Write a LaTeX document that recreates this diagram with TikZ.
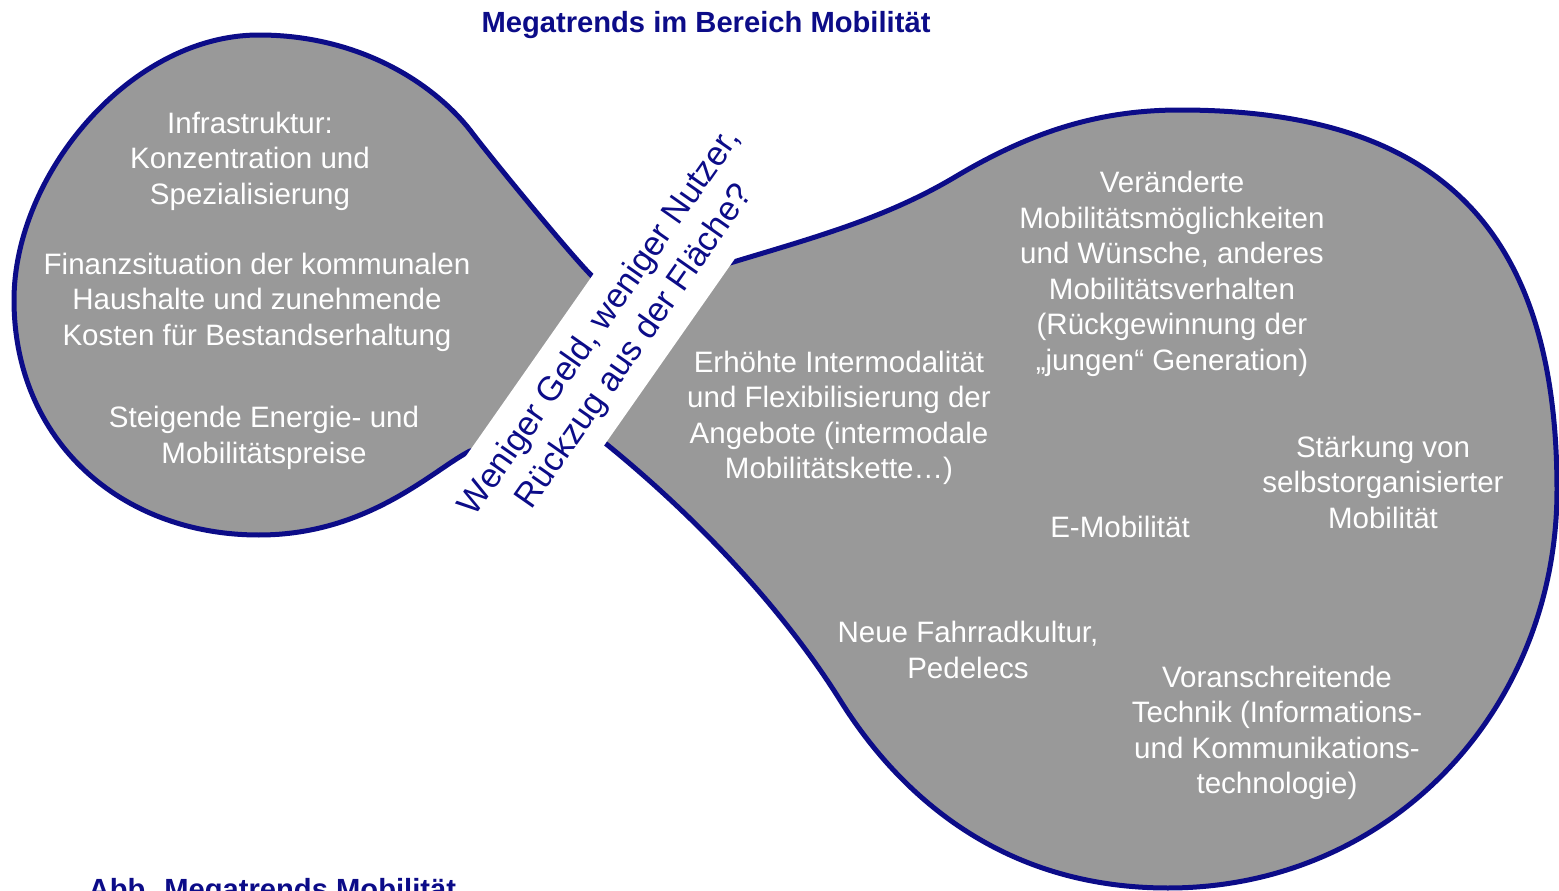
\documentclass[tikz,border=0pt]{standalone}
\usepackage{fontspec}
\setmainfont{Liberation Sans}
\definecolor{navy}{RGB}{12,12,136}
\definecolor{blobgray}{RGB}{153,153,153}
\begin{document}
\begin{tikzpicture}[x=0.1mm,y=-0.1mm,
  trend/.style={text=white,align=center,inner sep=0pt,font=\fontsize{8.4}{10.1}\selectfont},
  headline/.style={text=navy,inner sep=0pt,font=\fontsize{8.3}{10}\selectfont\bfseries}]
\useasboundingbox (0,0) rectangle (1559,891);
\draw[line width=.5mm,line join=round,draw=navy,fill=blobgray]
  (470,451) .. controls (434,469) and (369,535) .. (259,535)
  .. controls (120,535) and (14,440) .. (14,300)
  .. controls (14,175) and (130,35) .. (259,35)
  .. controls (359,35) and (433,83) .. (470,130)
  .. controls (491,158) and (575,260) .. (593,277)
  -- (730,263) .. controls (816,237) and (886,218) .. (955,177)
  .. controls (1032,131) and (1100,110) .. (1180,110)
  .. controls (1440,110) and (1557,230) .. (1557,490)
  .. controls (1557,710) and (1390,888) .. (1168,888)
  .. controls (1000,888) and (898,793) .. (840,700)
  .. controls (776,598) and (683,506) .. (605,443) -- cycle;
\node[fill=white,rotate=55,minimum width=60mm,minimum height=10.7mm,inner sep=0pt] (band) at (600,358) {};
\node[rotate=55,text=navy,align=center,inner sep=0pt,font=\fontsize{9.7}{12}\selectfont] (rueckzug) at (618,335)
  {Weniger Geld, weniger Nutzer,\\Rückzug aus der Fläche?};
\node[headline] (titel) at (706,25) {Megatrends im Bereich Mobilität};
\node[headline,anchor=base west] (abb) at (88,899) {Abb. Megatrends Mobilität};
\node[trend] (infra) at (250,161) {Infrastruktur:\\Konzentration und\\Spezialisierung};
\node[trend] (finanz) at (257,302) {Finanzsituation der kommunalen\\Haushalte und zunehmende\\Kosten für Bestandserhaltung};
\node[trend] (energie) at (264,438) {Steigende Energie- und\\Mobilitätspreise};
\node[trend] (wandel) at (1172,274) {Veränderte\\Mobilitätsmöglichkeiten\\und Wünsche, anderes\\Mobilitätsverhalten\\(Rückgewinnung der\\„jungen“ Generation)};
\node[trend] (intermodal) at (839,418) {Erhöhte Intermodalität\\und Flexibilisierung der\\Angebote (intermodale\\Mobilitätskette…)};
\node[trend] (selbst) at (1383,482) {Stärkung von\\selbstorganisierter\\Mobilität};
\node[trend] (emob) at (1120,527) {E-Mobilität};
\node[trend] (rad) at (968,650) {Neue Fahrradkultur,\\Pedelecs};
\node[trend] (technik) at (1277,733) {Voranschreitende\\Technik (Informations-\\und Kommunikations-\\technologie)};
\end{tikzpicture}
\end{document}
